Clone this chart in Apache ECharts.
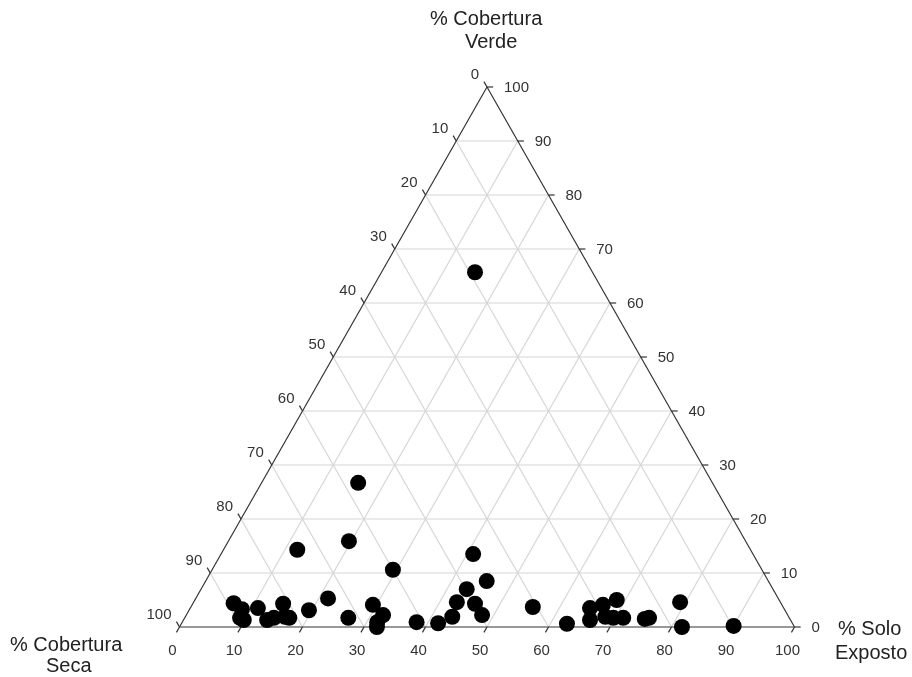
<!DOCTYPE html>
<html><head><meta charset="utf-8">
<script src="https://cdn.jsdelivr.net/npm/echarts@6/dist/echarts.min.js"></script>
<style>html,body{margin:0;padding:0;background:#fff}#c{width:912px;height:677px}</style>
</head><body><div id="c"></div>
<script>
// Ternary data (percentages)
const soloExposto = [15.2,15.7,19.6,12.0,41.0,29.4,45.7,43.2,42.8,45.9,48.1,43.4,41.7,38.1,55.6,21.5,26.6,29.4,32.0,31.7,32.1,6.6,8.5,9.0,9.8,11.0,13.6,14.5,14.7,16.2,17.0,19.5,62.7,65.0,66.1,66.8,68.6,68.3,69.7,71.3,74.9,75.5,79.1,81.7,90.0];
const coberturaVerde = [65.7,26.7,15.9,14.3,13.5,10.6,8.5,7.0,4.6,4.3,2.2,1.9,0.7,0.9,3.7,5.3,1.7,4.1,2.2,0.9,0.0,4.4,3.3,1.7,1.3,3.5,1.3,1.7,4.3,1.9,1.7,3.1,0.6,3.5,1.3,4.1,5.0,1.9,1.7,1.7,1.5,1.7,4.6,0.0,0.2];
const coberturaSeca = [19.1,57.6,64.5,73.7,45.5,60.0,45.8,49.8,52.6,49.8,49.7,54.7,57.6,61.0,40.7,73.2,71.7,66.5,65.8,67.4,67.9,89.0,88.2,89.3,88.9,85.5,85.1,83.8,81.0,81.9,81.3,77.4,36.7,31.5,32.6,29.1,26.4,29.8,28.6,27.0,23.6,22.8,16.3,18.3,9.8];
const tickValues = [0,10,20,30,40,50,60,70,80,90,100];
const titleVerde = ['% Cobertura','Verde'];
const titleSeca = ['% Cobertura','Seca'];
const titleSolo = ['% Solo','Exposto'];

// ternary -> cartesian (x in 0..100 along base, y = verde)
function tern(s, v, d) {
  const t = s + v + d;
  const S = s / t * 100, V = v / t * 100;
  return [S + V / 2, V];
}

const points = soloExposto.map((s, i) => tern(s, coberturaVerde[i], coberturaSeca[i]));

// grid lines
const gridSegs = [];
tickValues.forEach(k => {
  if (k === 0 || k === 100) return;
  gridSegs.push([k/2, k, 100 - k/2, k]);             // verde = k
  gridSegs.push([k, 0, k + (100-k)/2, 100-k]);       // solo = k
  gridSegs.push([100-k, 0, (100-k)/2, 100-k]);       // seca = k
});
const edgeSegs = [[0,0,100,0],[0,0,50,100],[100,0,50,100]];
const tickSegs = [];
const tickLabels = [];
tickValues.forEach(k => {
  tickSegs.push([k, 0, k - 0.5, -1]);
  tickLabels.push([k, 0, String(k), 'solo']);
  tickSegs.push([100 - k/2, k, 100 - k/2 + 1, k]);
  tickLabels.push([100 - k/2, k, String(k), 'verde']);
  tickSegs.push([(100-k)/2, 100-k, (100-k)/2 - 0.5, 100-k+1]);
  tickLabels.push([(100-k)/2, 100-k, String(k), 'seca']);
});

function segSeries(data, color, width, z) {
  return {
    type: 'custom', data: data, z: z, silent: true, clip: false,
    encode: {x: [0, 2], y: [1, 3]},
    renderItem: function (params, api) {
      const a = api.coord([api.value(0), api.value(1)]);
      const b = api.coord([api.value(2), api.value(3)]);
      return {type: 'line', shape: {x1: a[0], y1: a[1], x2: b[0], y2: b[1]},
        style: {stroke: color, lineWidth: width}};
    }
  };
}

const FONT = '"Liberation Sans", Arial, sans-serif';
const offs = {
  solo: {dx: -7, dy: 24, align: 'center'},
  verde: {dx: 17, dy: 1, align: 'left'},
  seca: {dx: -8, dy: -12, align: 'right'}
};

const chart = echarts.init(document.getElementById('c'), null, {renderer: 'canvas'});
chart.setOption({
  animation: false,
  backgroundColor: '#fff',
  grid: {left: 179.5, top: 87, width: 615, height: 540},
  xAxis: {type: 'value', min: 0, max: 100, show: false},
  yAxis: {type: 'value', min: 0, max: 100, show: false},
  graphic: [
    {type: 'text', left: 430, top: 9, style: {text: titleVerde[0], font: '20px ' + FONT, fill: '#222'}},
    {type: 'text', left: 465, top: 32, style: {text: titleVerde[1], font: '20px ' + FONT, fill: '#222'}},
    {type: 'text', left: 10, top: 635, style: {text: titleSeca[0], font: '20px ' + FONT, fill: '#222'}},
    {type: 'text', left: 46, top: 656, style: {text: titleSeca[1], font: '20px ' + FONT, fill: '#222'}},
    {type: 'text', left: 838, top: 619, style: {text: titleSolo[0], font: '20px ' + FONT, fill: '#222'}},
    {type: 'text', left: 835, top: 643, style: {text: titleSolo[1], font: '20px ' + FONT, fill: '#222'}}
  ],
  series: [
    segSeries(gridSegs, '#d6d6d6', 1.2, 1),
    segSeries(edgeSegs, '#333', 1.2, 2),
    segSeries(tickSegs, '#333', 1.2, 2),
    {
      type: 'custom', data: tickLabels, z: 3, silent: true, clip: false,
      encode: {x: 0, y: 1},
      renderItem: function (params, api) {
        const item = tickLabels[params.dataIndex];
        const p = api.coord([item[0], item[1]]);
        const o = offs[item[3]];
        return {type: 'text', x: p[0] + o.dx, y: p[1] + o.dy,
          style: {text: item[2], font: '15px ' + FONT, fill: '#333', align: o.align, verticalAlign: 'middle'}};
      }
    },
    {
      type: 'scatter', data: points, z: 5, symbol: 'circle', symbolSize: 16,
      itemStyle: {color: '#000', opacity: 1}
    }
  ]
});
</script></body></html>
